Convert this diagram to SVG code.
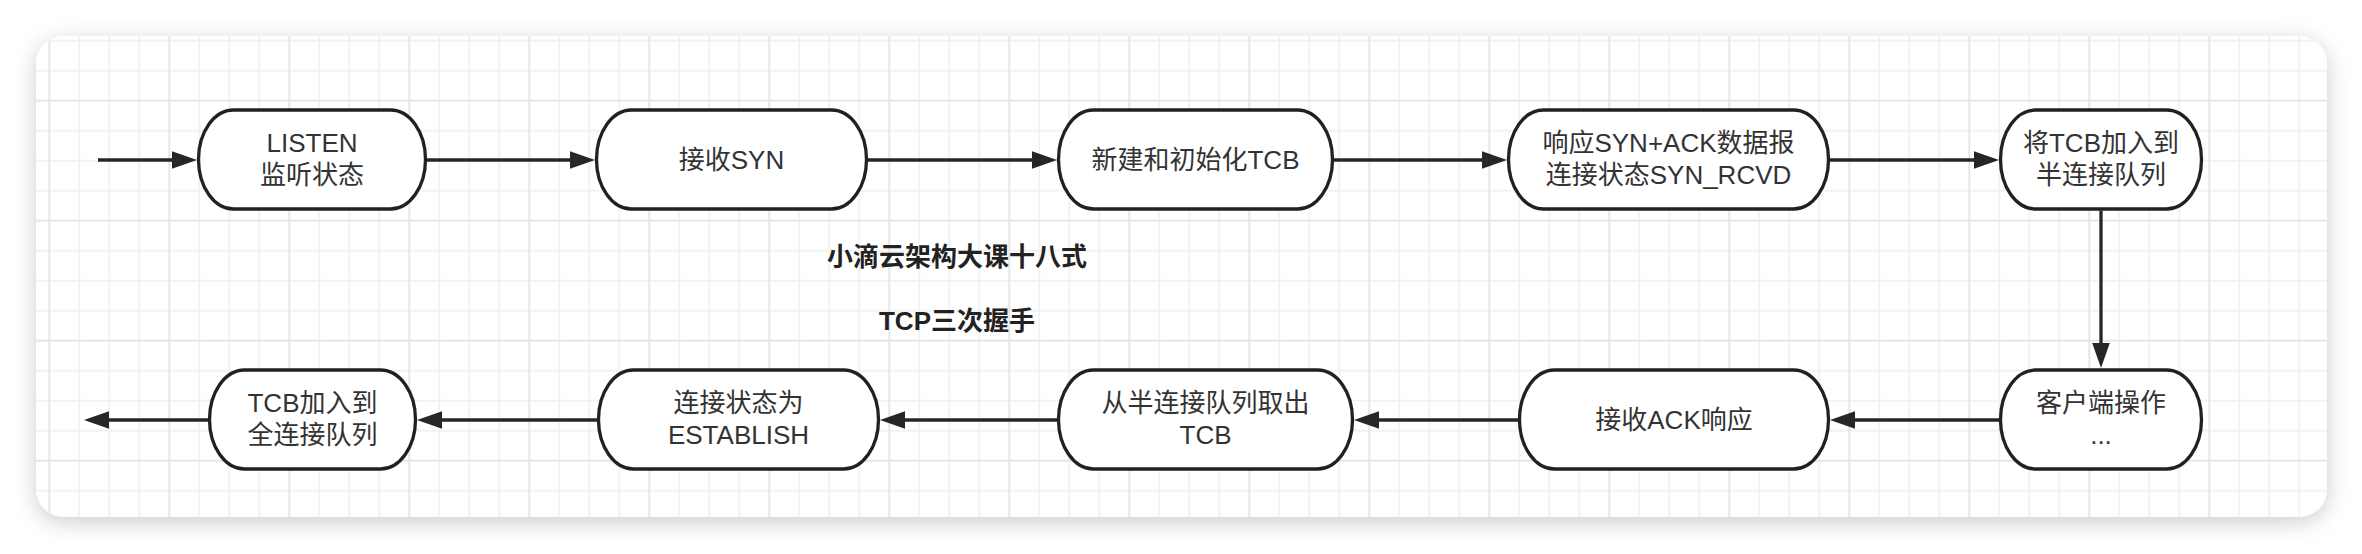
<svg xmlns="http://www.w3.org/2000/svg" width="2362" height="554" viewBox="0 0 2362 554">
  <style>
    .node rect { fill: #ffffff; stroke: #1f2124; stroke-width: 3.3; }
    .node text { font-family: "Liberation Sans", "Noto Sans CJK SC", sans-serif; font-size: 26px; fill: #333333; text-anchor: middle; }
    .title { font-family: "Liberation Sans", "Noto Sans CJK SC", sans-serif; font-size: 26px; font-weight: bold; fill: #222222; text-anchor: middle; }
    .edge { fill: none; stroke: #262626; stroke-width: 3.3; marker-end: url(#ah); }
  </style>
  <defs>
    <filter id="shadow" x="-5%" y="-20%" width="110%" height="140%">
      <feDropShadow dx="0" dy="5" stdDeviation="11" flood-color="#000000" flood-opacity="0.2"/>
    </filter>
    <pattern id="grid" patternUnits="userSpaceOnUse" x="34.3" y="85.7" width="120" height="120">
      <g stroke="#f2f2f2" stroke-width="2">
        <line x1="45" y1="0" x2="45" y2="120"/>
        <line x1="75" y1="0" x2="75" y2="120"/>
        <line x1="105" y1="0" x2="105" y2="120"/>
        <line x1="0" y1="45" x2="120" y2="45"/>
        <line x1="0" y1="75" x2="120" y2="75"/>
        <line x1="0" y1="105" x2="120" y2="105"/>
      </g>
      <g stroke="#e6e6e6" stroke-width="2">
        <line x1="15" y1="0" x2="15" y2="120"/>
        <line x1="0" y1="15" x2="120" y2="15"/>
      </g>
    </pattern>
    <clipPath id="cardClip">
      <rect x="36" y="36" width="2291" height="481" rx="28" ry="28"/>
    </clipPath>
    <marker id="ah" markerUnits="userSpaceOnUse" markerWidth="26" markerHeight="20" refX="0" refY="10" orient="auto" viewBox="0 0 26 20" overflow="visible">
      <path d="M-1,1.2 L24,10 L-1,18.8 Z" fill="#262626"/>
    </marker>
  </defs>

  <rect x="0" y="0" width="2362" height="554" fill="#ffffff"/>
  <rect x="36" y="36" width="2291" height="481" rx="28" ry="28" fill="#ffffff" filter="url(#shadow)"/>
  <rect x="36" y="36" width="2291" height="481" fill="url(#grid)" clip-path="url(#cardClip)"/>

  <text class="title" x="957" y="266">小滴云架构大课十八式</text>
  <text class="title" x="957" y="330">TCP三次握手</text>

  <g id="connectors">
    <path class="edge" d="M98 160 H173"/>
    <path class="edge" d="M427 160 H571"/>
    <path class="edge" d="M868 160 H1033"/>
    <path class="edge" d="M1334 160 H1483"/>
    <path class="edge" d="M1830 160 H1975"/>
    <path class="edge" d="M2101 210.5 V344"/>
    <path class="edge" d="M1999 420 H1854"/>
    <path class="edge" d="M1518 420 H1378"/>
    <path class="edge" d="M1057 420 H904"/>
    <path class="edge" d="M597 420 H441"/>
    <path class="edge" d="M208 420 H108"/>
  </g>

  <g id="n1" class="node">
    <rect x="198.5" y="110" width="227" height="99" rx="35" ry="49.5"/>
    <text x="312" y="152"><tspan x="312">LISTEN</tspan><tspan x="312" y="184">监听状态</tspan></text>
  </g>
  <g id="n2" class="node">
    <rect x="596.5" y="110" width="270" height="99" rx="35" ry="49.5"/>
    <text x="731.5" y="169">接收SYN</text>
  </g>
  <g id="n3" class="node">
    <rect x="1058.5" y="110" width="274" height="99" rx="35" ry="49.5"/>
    <text x="1195.5" y="169">新建和初始化TCB</text>
  </g>
  <g id="n4" class="node">
    <rect x="1508.5" y="110" width="320" height="99" rx="35" ry="49.5"/>
    <text x="1668.5" y="152"><tspan x="1668.5">响应SYN+ACK数据报</tspan><tspan x="1668.5" y="184">连接状态SYN_RCVD</tspan></text>
  </g>
  <g id="n5" class="node">
    <rect x="2000.5" y="110" width="201" height="99" rx="35" ry="49.5"/>
    <text x="2101" y="152"><tspan x="2101">将TCB加入到</tspan><tspan x="2101" y="184">半连接队列</tspan></text>
  </g>
  <g id="n6" class="node">
    <rect x="2000.5" y="370" width="201" height="99" rx="35" ry="49.5"/>
    <text x="2101" y="412"><tspan x="2101">客户端操作</tspan><tspan x="2101" y="444">...</tspan></text>
  </g>
  <g id="n7" class="node">
    <rect x="1519.5" y="370" width="309" height="99" rx="35" ry="49.5"/>
    <text x="1674" y="429">接收ACK响应</text>
  </g>
  <g id="n8" class="node">
    <rect x="1058.5" y="370" width="294" height="99" rx="35" ry="49.5"/>
    <text x="1205.5" y="412"><tspan x="1205.5">从半连接队列取出</tspan><tspan x="1205.5" y="444">TCB</tspan></text>
  </g>
  <g id="n9" class="node">
    <rect x="598.5" y="370" width="280" height="99" rx="35" ry="49.5"/>
    <text x="738.5" y="412"><tspan x="738.5">连接状态为</tspan><tspan x="738.5" y="444">ESTABLISH</tspan></text>
  </g>
  <g id="n10" class="node">
    <rect x="209.5" y="370" width="206" height="99" rx="35" ry="49.5"/>
    <text x="312.5" y="412"><tspan x="312.5">TCB加入到</tspan><tspan x="312.5" y="444">全连接队列</tspan></text>
  </g>
</svg>
